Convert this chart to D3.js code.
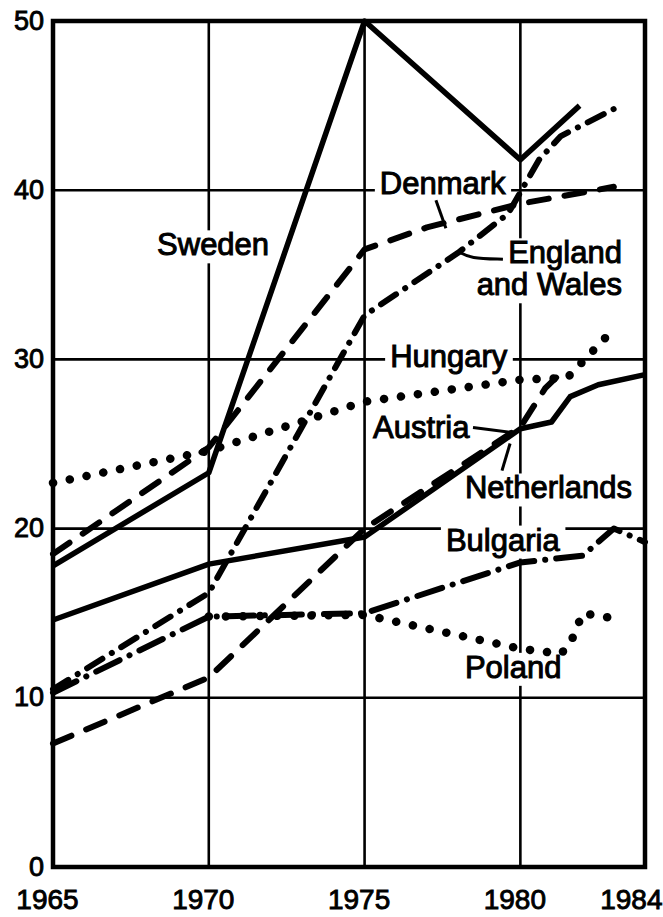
<!DOCTYPE html>
<html><head><meta charset="utf-8">
<script src="https://cdn.jsdelivr.net/npm/d3@7"></script>
<style>
html,body{margin:0;padding:0;background:#fff;}
svg{display:block;}
text{font-family:"Liberation Sans",Arial,Helvetica,sans-serif;fill:#000;}
</style></head><body>
<svg id="c" width="663" height="917"></svg>
<script>
// ---------- data ----------
const yTicks = [0, 10, 20, 30, 40, 50];
const xTicks = [1965, 1970, 1975, 1980, 1984];

const sweden      = [[1965,17.8],[1970,23.3],[1975,50],[1980,41.8],[1981.9,45]];
const denmark     = [[1965,18.5],[1970,24.8],[1975,36.5],[1977,37.8],[1980,39.2],[1983,40.2]];
const england     = [[1965,10.5],[1970,16.2],[1975,32.6],[1978,36.3],[1979.6,38.6],[1980.6,41.8],[1981.3,43.2],[1983,44.8]];
const hungary     = [[1965,22.7],[1970,24.6],[1975,27.5],[1980,28.8],[1981.5,28.9],[1983,31.8]];
const austria     = [[1965,14.6],[1970,17.9],[1975,19.5],[1980,25.9],[1981,26.3],[1981.6,27.8],[1982.5,28.5],[1984,29.1]];
const netherlands = [[1965,7.3],[1970,11.2],[1975,20],[1980,26],[1980.8,28.3],[1981.3,29.2]];
const bulgaria    = [[1965,10.3],[1970,14.8],[1975,15],[1980,18],[1982,18.4],[1983,20],[1984,19.2]];
const poland      = [[1970,14.8],[1975,14.9],[1980,12.9],[1981.3,12.6],[1981.6,13.2],[1982,15],[1983,14.7]];

const seriesNames  = ["Sweden","Denmark","England and Wales","Hungary","Austria","Netherlands","Bulgaria","Poland"];
const seriesData   = [sweden, denmark, england, hungary, austria, netherlands, bulgaria, poland];
const seriesStyles = ["solid","dash","dashdot","dot","solid","dash","dashdotlong","dot"];

// labels: text, anchor point [year, value], text-anchor
const labelTexts   = ["Sweden","Denmark","England","and Wales","Hungary","Austria","Netherlands","Bulgaria","Poland"];
const labelPoints  = [[1968.34,36.15],[1975.49,39.76],[1983.26,35.68],[1983.26,33.79],[1975.82,29.53],[1975.27,25.38],[1978.22,21.78],[1977.61,18.7],[1978.22,11.18]];
const labelAnchors = ["start","start","end","end","start","start","start","start","start"];

// leader lines (data coordinates)
const leaders = [
  [[1977.29,39.4],[1977.61,37.75]],                 // Denmark
  [[1978.06,36.33],[1978.38,35.98],[1979.44,35.92]], // England and Wales
  [[1978.48,25.98],[1979.73,25.68]],                 // Austria
  [[1979.41,23.43],[1979.67,25.03]]                  // Netherlands
];

// ---------- drawing ----------
const W = 663, H = 917;
const svg = d3.select("#c");
svg.append("rect").attr("width",W).attr("height",H).attr("fill","#fff");

const x = d3.scaleLinear().domain([1965,1984]).range([53,645]);
const y = d3.scaleLinear().domain([0,50]).range([867,21]);

const gGrid = svg.append("g");
const gBg = svg.append("g");
const gLines = svg.append("g");
const gLead = svg.append("g");
const gText = svg.append("g");
const gFrame = svg.append("g");

// grid
gGrid.selectAll("line.h").data(yTicks.filter(d=>d>0&&d<50)).join("line")
  .attr("x1",x(1965)).attr("x2",x(1984)).attr("y1",d=>y(d)).attr("y2",d=>y(d))
  .attr("stroke","#000").attr("stroke-width",2.6);
gGrid.selectAll("line.v").data(xTicks.filter(d=>d>1965&&d<1984)).join("line")
  .attr("y1",y(0)).attr("y2",y(50)).attr("x1",d=>x(d)).attr("x2",d=>x(d))
  .attr("stroke","#000").attr("stroke-width",2.6);

// frame
gFrame.append("rect").attr("x",x(1965)).attr("y",y(50)).attr("width",x(1984)-x(1965)).attr("height",y(0)-y(50))
  .attr("fill","none").attr("stroke","#000").attr("stroke-width",4.5);

// axes
const yAxis = d3.axisLeft(y).tickValues(yTicks).tickSize(0).tickPadding(9).tickFormat(d3.format("d"));
const ya = svg.append("g").attr("transform",`translate(${x(1965)},0)`).call(yAxis);
ya.select(".domain").remove();
ya.selectAll("text").attr("font-size",27).attr("font-family","Liberation Sans, Arial, sans-serif")
  .attr("stroke","#000").attr("stroke-width",0.9).attr("dy","0.3em");

const xAxis = d3.axisBottom(x).tickValues(xTicks).tickSize(0).tickPadding(22).tickFormat(d3.format("d"));
const xa = svg.append("g").attr("transform",`translate(0,${y(0)})`).call(xAxis);
xa.select(".domain").remove();
xa.selectAll("text").attr("font-size",28).attr("font-family","Liberation Sans, Arial, sans-serif")
  .attr("stroke","#000").attr("stroke-width",0.9).attr("dx",-6);
xa.selectAll("text").filter(d=>d===1984).attr("text-anchor","end").attr("dx",17);

// labels
const texts = gText.selectAll("text").data(labelTexts).join("text")
  .attr("x",(d,i)=>x(labelPoints[i][0])).attr("y",(d,i)=>y(labelPoints[i][1]))
  .attr("text-anchor",(d,i)=>labelAnchors[i])
  .attr("font-size",31).attr("stroke","#000").attr("stroke-width",1)
  .text(d=>d);
texts.each(function(){
  const b = this.getBBox();
  gBg.append("rect").attr("x",b.x-5).attr("y",b.y+3).attr("width",b.width+10).attr("height",b.height-2)
    .attr("fill","#fff");
});

// series
const line = d3.line().x(d=>x(d[0])).y(d=>y(d[1]));
const dashes = {solid:null, dash:"20,16", dashdot:"18,11,0.1,11", dashdotlong:"26,11,0.1,11", dot:"0.1,17"};
const widths = {solid:5.5, dash:6, dashdot:6, dashdotlong:6, dot:8.5};
gLines.selectAll("path").data(seriesData).join("path")
  .attr("d",line)
  .attr("fill","none").attr("stroke","#000")
  .attr("stroke-width",(d,i)=>widths[seriesStyles[i]])
  .attr("stroke-dasharray",(d,i)=>dashes[seriesStyles[i]])
  .attr("stroke-linecap",(d,i)=>seriesStyles[i]==="solid"?"butt":"round")
  .attr("stroke-linejoin","round")
  .attr("data-name",(d,i)=>seriesNames[i]);

// leaders
gLead.selectAll("path").data(leaders).join("path")
  .attr("d",d3.line().curve(d3.curveBasis).x(d=>x(d[0])).y(d=>y(d[1])))
  .attr("fill","none").attr("stroke","#000").attr("stroke-width",3);
</script>
</body></html>
